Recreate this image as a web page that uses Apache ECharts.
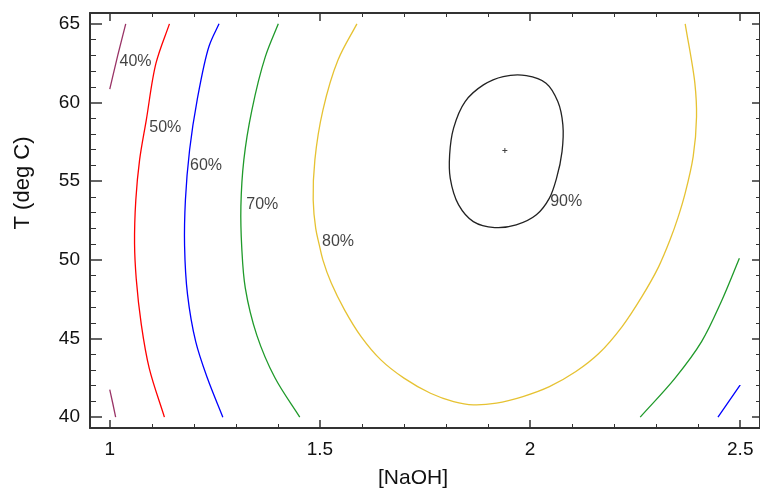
<!DOCTYPE html>
<html>
<head>
<meta charset="utf-8">
<script src="https://cdn.jsdelivr.net/npm/echarts@6/dist/echarts.min.js"></script>
<style>html,body{margin:0;padding:0;background:#fff}#c{width:760px;height:495px}</style>
</head>
<body>
<div id="c"></div>
<script>
// ---- data ----
const xMajorTicks = [1, 1.5, 2, 2.5];
const xMinorTicks = [1.1, 1.2, 1.3, 1.4, 1.6, 1.7, 1.8, 1.9, 2.1, 2.2, 2.3, 2.4];
const yMajorTicks = [40, 45, 50, 55, 60, 65];
const yMinorTicks = [41, 42, 43, 44, 46, 47, 48, 49, 51, 52, 53, 54, 56, 57, 58, 59, 61, 62, 63, 64];

const c40a = [[1.038, 65], [1.019, 63], [1.0, 60.85]];
const c40b = [[1.0, 41.75], [1.007, 40.9], [1.014, 40]];
const c50 = [[1.142, 65], [1.110, 62.5], [1.087, 58.9], [1.071, 56.35], [1.062, 53.8], [1.059, 51.0], [1.063, 48.8], [1.075, 45.9], [1.094, 43.1], [1.13, 40]];
const c60 = [[1.260, 65], [1.236, 63.56], [1.208, 60.17], [1.190, 57], [1.180, 53.8], [1.178, 50.9], [1.185, 47.8], [1.2045, 44.8], [1.232, 42.5], [1.269, 40]];
const c60b = [[2.447, 40], [2.5, 42.05]];
const c70 = [[1.401, 65], [1.370, 62.9], [1.338, 59.5], [1.319, 56.35], [1.312, 53.4], [1.314, 50.8], [1.3225, 48.2], [1.35, 45.2], [1.393, 42.5], [1.452, 40]];
const c70b = [[2.262, 40], [2.345, 42.48], [2.408, 44.8], [2.455, 47.35], [2.498, 50.1]];
const c80 = [[1.588, 65], [1.543, 62.7], [1.507, 59.5], [1.488, 56.35], [1.484, 53.8], [1.490, 52.0], [1.498, 51.0], [1.507, 50.0], [1.527, 48.52], [1.5585, 46.82], [1.598, 45.12], [1.645, 43.64], [1.700, 42.48], [1.763, 41.52], [1.818, 40.99], [1.865, 40.78], [1.920, 40.89], [1.983, 41.31], [2.046, 41.94], [2.109, 42.9], [2.164, 44.06], [2.219, 45.76], [2.266, 47.66], [2.306, 49.57], [2.333, 51.27], [2.352, 52.7], [2.369, 54.24], [2.388, 56.56], [2.396, 59.1], [2.392, 61.23], [2.369, 65]];
const c90 = [[1.991, 61.71], [2.038, 61.23], [2.066, 60.06], [2.078, 58.58], [2.076, 56.88], [2.063, 55.19], [2.046, 53.92], [2.015, 52.86], [1.967, 52.22], [1.916, 52.05], [1.865, 52.43], [1.830, 53.49], [1.810, 55.19], [1.8086, 56.67], [1.818, 58.37], [1.8455, 60.06], [1.889, 61.12], [1.936, 61.65], [1.991, 61.71]];
const optimum = [[1.94, 56.95]];
const contourLabels = [[1.0613, 62.63, '40%'], [1.132, 58.38, '50%'], [1.229, 56.0, '60%'], [1.363, 53.5, '70%'], [1.543, 51.14, '80%'], [2.086, 53.7, '90%']];

// ---- chart ----
const XMIN = 0.953, XMAX = 2.547, YMIN = 39.31, YMAX = 65.69;
const FONT = '"Liberation Sans", Arial, sans-serif';
const FRAME = '#333';

function xAx(pos, ticks, len, showLine, labels) {
  return {
    type: 'value', position: pos, min: XMIN, max: XMAX, gridIndex: 0,
    axisLine: { show: showLine, onZero: false, lineStyle: { color: FRAME, width: 2 } },
    axisTick: { show: true, inside: true, length: len, customValues: ticks, lineStyle: { color: FRAME, width: len > 5 ? 1.5 : 1 } },
    axisLabel: labels ? { show: true, customValues: ticks, color: '#111', fontSize: 19, fontFamily: FONT, margin: 12 } : { show: false },
    splitLine: { show: false }
  };
}
function yAx(pos, ticks, len, showLine, labels) {
  return {
    type: 'value', position: pos, min: YMIN, max: YMAX, gridIndex: 0,
    axisLine: { show: showLine, onZero: false, lineStyle: { color: FRAME, width: 2 } },
    axisTick: { show: true, inside: true, length: len, customValues: ticks, lineStyle: { color: FRAME, width: len > 7 ? 1.5 : 1 } },
    axisLabel: labels ? { show: true, customValues: ticks, color: '#111', fontSize: 19, fontFamily: FONT, margin: 10 } : { show: false },
    splitLine: { show: false }
  };
}

// Smooth path through pixel points (centripetal Catmull-Rom -> cubic Bezier)
function smoothPath(P) {
  const n = P.length;
  const closed = n > 3 && P[0][0] === P[n - 1][0] && P[0][1] === P[n - 1][1];
  const pts = closed ? P.slice(0, n - 1) : P.slice();
  const m = pts.length;
  const get = i => {
    if (closed) return pts[(i + m) % m];
    if (i < 0) return [2 * pts[0][0] - pts[1][0], 2 * pts[0][1] - pts[1][1]];
    if (i >= m) return [2 * pts[m - 1][0] - pts[m - 2][0], 2 * pts[m - 1][1] - pts[m - 2][1]];
    return pts[i];
  };
  const dist = (a, b) => Math.max(1e-6, Math.pow(Math.hypot(a[0] - b[0], a[1] - b[1]), 0.5));
  let d = 'M' + pts[0][0] + ',' + pts[0][1];
  const segs = closed ? m : m - 1;
  for (let i = 0; i < segs; i++) {
    const p0 = get(i - 1), p1 = get(i), p2 = get(i + 1), p3 = get(i + 2);
    const d1 = dist(p0, p1), d2 = dist(p1, p2), d3 = dist(p2, p3);
    const c1 = [0, 1].map(k => (d1 * d1 * p2[k] - d2 * d2 * p0[k] + (2 * d1 * d1 + 3 * d1 * d2 + d2 * d2) * p1[k]) / (3 * d1 * (d1 + d2)));
    const c2 = [0, 1].map(k => (d3 * d3 * p1[k] - d2 * d2 * p3[k] + (2 * d3 * d3 + 3 * d3 * d2 + d2 * d2) * p2[k]) / (3 * d3 * (d3 + d2)));
    d += 'C' + c1[0] + ',' + c1[1] + ',' + c2[0] + ',' + c2[1] + ',' + p2[0] + ',' + p2[1];
  }
  if (closed) d += 'Z';
  return d;
}

function curve(data, color) {
  return {
    type: 'custom', coordinateSystem: 'cartesian2d', xAxisIndex: 0, yAxisIndex: 0,
    data: [data[0]], silent: true, animation: false, clip: true,
    renderItem: function (params, api) {
      const px = data.map(p => api.coord(p));
      return {
        type: 'path',
        shape: { pathData: smoothPath(px) },
        style: { stroke: color, fill: 'none', lineWidth: 1.3 }
      };
    }
  };
}

const option = {
  animation: false,
  backgroundColor: '#fff',
  grid: { left: 90, top: 13, width: 676, height: 415 },
  xAxis: [
    xAx('bottom', xMajorTicks, 8, true, true),
    xAx('bottom', xMinorTicks, 4, false, false),
    xAx('top', xMajorTicks, 8, true, false),
    xAx('top', xMinorTicks, 4, false, false)
  ],
  yAxis: [
    yAx('left', yMajorTicks, 12, true, true),
    yAx('left', yMinorTicks, 6, false, false),
    yAx('right', yMajorTicks, 8, true, false),
    yAx('right', yMinorTicks, 4, false, false)
  ],
  series: [
    curve(c40a, '#993366'),
    curve(c40b, '#993366'),
    curve(c50, '#ff0000'),
    curve(c60, '#0000ff'),
    curve(c60b, '#0000ff'),
    curve(c70, '#1f9a2a'),
    curve(c70b, '#1f9a2a'),
    curve(c80, '#e6c232'),
    curve(c90, '#222222'),
    {
      type: 'scatter', data: optimum, xAxisIndex: 0, yAxisIndex: 0, silent: true,
      symbol: 'path://M4,0h2v4h4v2h-4v4h-2v-4h-4v-2h4z', symbolSize: 5,
      itemStyle: { color: '#111' }
    },
    {
      type: 'scatter', data: contourLabels, xAxisIndex: 0, yAxisIndex: 0, silent: true,
      symbolSize: 0,
      label: {
        show: true, position: 'inside', formatter: p => p.value[2],
        color: '#111', fontSize: 16, fontFamily: FONT
      }
    }
  ],
  graphic: [
    { type: 'text', x: 23, y: 183, rotation: Math.PI / 2,
      style: { text: 'T (deg C)', fontSize: 22, fontFamily: FONT, fill: '#111', align: 'center', verticalAlign: 'middle' } },
    { type: 'text', x: 413, y: 478,
      style: { text: '[NaOH]', fontSize: 21, fontFamily: FONT, fill: '#111', align: 'center', verticalAlign: 'middle' } }
  ]
};

const chart = echarts.init(document.getElementById('c'), null, { renderer: 'canvas' });
chart.setOption(option);
</script>
</body>
</html>
